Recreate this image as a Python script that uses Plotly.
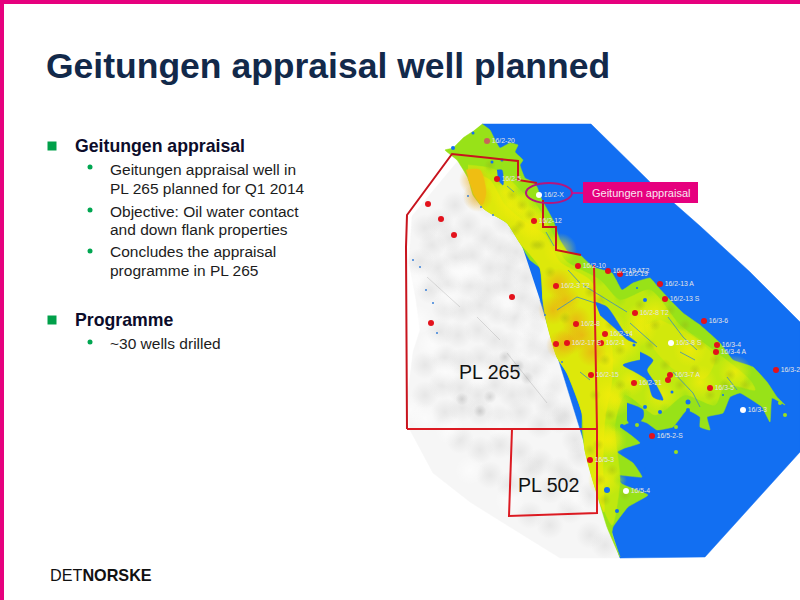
"""Geitungen slide: text, licence outlines and the well map, all on one pixel-sized hidden axis pair."""

import plotly.graph_objects as go

FONT = "Liberation Sans"
PINK = "#e6007e"
BLUE = "#126ff2"

title_text = "Geitungen appraisal well planned"

header_lines = [("Geitungen appraisal", 146), ("Programme", 320)]
body_lines = [
    ("Geitungen appraisal well in", 169),
    ("PL 265 planned for Q1 2014", 188),
    ("Objective: Oil water contact", 211),
    ("and down flank properties", 229),
    ("Concludes the appraisal", 251),
    ("programme in PL 265", 270),
    ("~30 wells drilled", 343),
]
sub_bullet_y = [167, 210, 251, 342]

# map outlines as (x, y) pixels
survey_outline = [(482, 124), (591, 124), (650, 182), (700, 226), (750, 272), (800, 322),
                  (800, 452), (750, 507), (705, 557), (620, 558), (540, 300)]
seabed_outline = [(457, 162), (412, 216), (409, 262), (416, 300), (420, 330), (413, 352), (407, 400),
                  (410, 430), (433, 473), (470, 502), (510, 527), (560, 558), (622, 558), (560, 300), (500, 190)]
green_land = [(482, 124), (490, 130), (495, 140), (500, 148), (510, 143), (518, 145), (515, 152),
              (523, 160), (520, 165), (525, 178), (533, 182), (537, 187), (542, 200), (553, 220),
              (560, 240), (568, 252), (580, 255), (593, 267), (612, 273), (622, 290), (633, 283),
              (650, 278), (658, 287), (670, 300), (683, 313), (700, 325), (720, 343), (733, 360),
              (753, 367), (767, 382), (777, 397), (785, 405), (772, 398), (770, 422), (762, 407),
              (752, 400), (740, 393), (730, 397), (723, 413), (707, 417), (710, 430), (700, 427),
              (700, 417), (687, 410), (673, 427), (657, 430), (647, 423), (637, 420), (620, 427),
              (628, 433), (640, 443), (625, 448), (617, 452), (633, 463), (642, 477), (615, 475), (622, 484),
              (648, 495), (628, 507), (613, 527), (612, 533), (620, 557), (607, 527), (595, 487),
              (585, 450), (582, 430), (582, 413), (567, 373), (557, 357), (547, 323), (543, 300),
              (540, 268), (530, 260), (520, 243), (507, 223), (483, 208), (473, 195), (468, 178),
              (457, 160), (445, 150), (453, 148), (463, 138), (472, 132)]
midgreen_land = [(468, 165), (490, 168), (505, 175), (520, 190), (535, 203), (552, 232),
                 (565, 260), (600, 280), (620, 300), (650, 290), (680, 325), (720, 355), (750, 380),
                 (755, 390), (725, 385), (715, 405), (685, 395), (665, 410), (655, 415), (625, 395),
                 (615, 425), (620, 480), (612, 525), (595, 487), (585, 450), (582, 413), (567, 373),
                 (557, 357), (547, 323), (543, 300), (540, 268), (520, 243), (507, 223), (483, 208),
                 (468, 178)]
yellow_land = [(472, 172), (490, 180), (505, 205), (525, 222), (545, 235), (560, 262), (590, 280),
               (605, 310), (612, 345), (612, 380), (605, 420), (603, 470), (604, 512), (595, 487),
               (585, 450), (582, 413), (567, 373), (557, 357), (547, 323), (543, 300), (540, 268),
               (520, 243), (507, 223), (483, 208), (468, 178)]
yellow_land_east = [(660, 320), (690, 335), (715, 358), (705, 378), (675, 370), (655, 350), (645, 325)]
orange_land = [(466, 170), (480, 170), (486, 192), (482, 205), (473, 193)]

# inlets and lakes inside the land
north_inlet = [(497, 170), (502, 170), (503, 185), (498, 180)]
channel_inlet = [(595, 302), (607, 307), (625, 333), (637, 343), (628, 340), (617, 330), (600, 315)]
big_lake = [(640, 352), (653, 360), (647, 370), (655, 383), (663, 400), (653, 397), (647, 380),
            (635, 372), (623, 365), (640, 360)]
south_lake = [(627, 403), (643, 410), (643, 418), (633, 427), (627, 420)]
lake_x = [637, 645, 672, 660, 645, 688, 723, 628, 607, 617, 622, 645, 473, 453, 502, 492, 634, 688]
lake_y = [288, 300, 392, 412, 407, 402, 395, 335, 490, 511, 426, 468, 133, 148, 160, 162, 345, 410]
lake_size = [2, 4, 3, 4, 4, 5, 2, 3, 6, 4, 4, 2, 3, 4, 3, 3, 3, 4]
island_x = [637, 676, 780, 785, 676]
island_y = [425, 427, 403, 415, 452]
speck_x = [413, 420, 426, 433, 437, 545, 562, 468, 481, 493]
speck_y = [260, 267, 290, 303, 333, 315, 362, 196, 207, 215]

river_paths = [
    [(568, 270), (580, 283)],
    [(557, 310), (577, 297), (595, 303)],
    [(583, 285), (613, 303), (627, 312)],
    [(630, 323), (657, 347)],
    [(668, 317), (683, 337), (697, 350)],
    [(680, 352), (695, 360)],
    [(673, 372), (693, 393), (700, 407)],
    [(727, 377), (737, 390)],
    [(507, 186), (514, 192)],
    [(546, 232), (554, 246)],
    [(580, 372), (590, 380)],
]

# seabed shading, hand-placed soft blobs
shade_x = [425, 440, 455, 475, 490, 505, 520, 432, 450, 468, 485, 500, 516, 532, 420, 438, 456, 472, 490, 508,
           526, 430, 448, 470, 488, 505, 522, 538, 445, 462, 480, 498, 515, 532, 440, 458, 478, 495, 512, 530,
           548, 425, 445, 462, 480, 498, 518, 536, 552, 425, 442, 460, 478, 495, 512, 530, 548, 565, 445, 462,
           480, 500, 520, 540, 560, 575, 460, 480, 500, 520, 540, 560, 580, 490, 510, 530, 550, 570, 590, 530,
           550, 570, 590, 605]
shade_y = [228, 222, 205, 195, 205, 222, 232, 245, 238, 225, 238, 248, 252, 258, 262, 268, 258, 255, 268, 268,
           278, 290, 282, 285, 290, 285, 298, 308, 308, 310, 305, 312, 318, 325, 332, 335, 330, 340, 345, 345,
           352, 365, 358, 362, 358, 365, 368, 372, 385, 395, 385, 388, 395, 385, 395, 392, 405, 415, 412, 408,
           412, 418, 412, 425, 420, 440, 440, 450, 445, 452, 462, 470, 455, 475, 485, 470, 490, 480, 495, 515,
           525, 510, 535, 545]
dark_x = [490, 480, 527, 462, 505, 518]
dark_y = [397, 411, 378, 399, 357, 366]
glint_x = [415, 418, 432, 448, 468, 505, 528, 445, 480, 520, 410, 425, 450, 545, 470, 510, 575, 455, 500]
glint_y = [280, 320, 345, 300, 272, 305, 325, 372, 375, 345, 410, 418, 430, 380, 470, 500, 500, 272, 425]
streak_paths = [
    [(427, 277), (460, 307)],
    [(477, 317), (500, 340)],
    [(507, 353), (527, 378), (547, 403)],
]

# terrain shading: yellow and orange lifts, lime edges, olive ripples
yellow_blob_x = [505, 520, 535, 640, 625, 655, 690, 700, 630, 660, 615, 640, 735, 610,
                 612, 612, 610, 606, 605, 560, 530, 510]
yellow_blob_y = [192, 210, 228, 320, 345, 312, 350, 382, 380, 395, 400, 330, 372, 440,
                 330, 360, 395, 440, 480, 250, 222, 205]
orange_blob_x = [474, 478, 558, 565, 576, 570, 582, 553, 592, 561]
orange_blob_y = [180, 197, 283, 300, 320, 340, 335, 310, 352, 345]
lime_blob_x = [490, 505, 520, 535, 552, 600, 620, 650, 680, 720, 750, 725, 715, 685, 665, 625, 615, 620]
lime_blob_y = [168, 175, 190, 203, 232, 280, 300, 290, 325, 355, 380, 385, 405, 395, 410, 395, 425, 480]
ripple_x = [490, 500, 512, 522, 530, 515, 540, 550, 565, 590, 600, 610, 605, 595, 620, 640, 655, 670, 685, 700,
            715, 730, 650, 665, 680, 695, 710, 725, 745, 620, 635, 610, 598, 600, 590, 612, 605, 625, 520, 535]
ripple_y = [165, 180, 195, 205, 215, 230, 245, 272, 318, 292, 300, 325, 360, 395, 350, 305, 325, 310, 325, 345,
            360, 375, 345, 365, 385, 370, 395, 385, 385, 385, 410, 415, 445, 480, 450, 470, 500, 495, 225, 245]

# wells
red_well_x = [497, 534, 578, 608, 620, 660, 665, 556, 635, 704, 576, 605, 556, 567, 601, 717, 716,
              776, 591, 634, 670, 668, 710, 652, 590, 428, 441, 454, 512, 431]
red_well_y = [179, 221, 266, 271, 274, 284, 299, 286, 313, 321, 324, 334, 344, 343, 343, 345, 352,
              370, 375, 383, 375, 380, 388, 436, 460, 204, 219, 235, 297, 323]
red_well_labels = ["16/2-5", "16/2-12", "16/2-10", "16/2-19 AT2", "16/2-19", "16/2-13 A",
                   "16/2-13 S", "16/2-3 T2", "16/2-8 T2", "16/3-6", "16/2-8", "16/2-14", "", "16/2-17 S",
                   "16/2-1", "16/3-4", "16/3-4 A", "16/3-2", "16/2-15", "16/2-21", "16/3-7 A", "",
                   "16/3-5", "16/5-2-S", "16/5-3", "", "", "", "", ""]
faded_well_x = [487]
faded_well_y = [141]
faded_well_labels = ["16/2-20"]
white_well_x = [539, 671, 743, 626]
white_well_y = [195, 343, 410, 491]
white_well_labels = ["16/2-X", "16/3-8 S", "16/3-3", "16/5-4"]

pl265_north = [(407, 429), (406, 247), (407, 215), (452, 154), (490, 158), (518, 161), (518, 180),
               (537, 183)]
pl265_east = [(543, 200), (543, 227), (556, 227), (556, 250), (581, 255)]
pl265_south = [(407, 429), (597, 429)]
block_divide = [(594, 265), (597, 429), (597, 513), (509, 516), (512, 429)]


def add_area(fig, points, color, smooth=0):
    line = dict(color=color, width=0.5)
    if smooth:
        line.update(shape="spline", smoothing=smooth)
    fig.add_trace(go.Scatter(
        x=[p[0] for p in points], y=[p[1] for p in points], mode="lines", fill="toself",
        fillcolor=color, line=line, hoverinfo="skip",
    ))


def add_path(fig, points, color, width):
    fig.add_trace(go.Scatter(
        x=[p[0] for p in points], y=[p[1] for p in points], mode="lines",
        line=dict(color=color, width=width), hoverinfo="skip",
    ))


def add_blobs(fig, xs, ys, rgb, size, strength=1.0):
    # soft round patches: solid in the centre, fading out to nothing
    fig.add_trace(go.Scatter(
        x=xs, y=ys, mode="markers", hoverinfo="skip",
        marker=dict(size=size, color=f"rgba({rgb},0)", line=dict(width=0),
                    gradient=dict(type="radial", color=f"rgba({rgb},{strength})")),
    ))


def add_wells(fig, xs, ys, labels, color):
    fig.add_trace(go.Scatter(
        x=xs, y=ys, text=labels, mode="markers+text", textposition="middle right",
        textfont=dict(family=FONT, size=6.8, color="#e4e4e4"), hoverinfo="skip",
        marker=dict(size=6, color=color, line=dict(width=0)),
    ))


def add_text(fig, x, y, text, size, color, bold=False):
    fig.add_annotation(
        x=x - 2, y=y, text=f"<b>{text}</b>" if bold else text, showarrow=False, xanchor="left", yanchor="middle",
        font=dict(family=FONT, size=size, color=color),
    )


fig = go.Figure()

add_area(fig, seabed_outline, "#f6f6f6")
add_blobs(fig, shade_x, shade_y, "190,190,190", 28, 0.28)
add_blobs(fig, glint_x, glint_y, "255,255,255", 30, 0.6)
add_blobs(fig, dark_x, dark_y, "140,140,140", 13, 0.3)
for streak in streak_paths:
    add_path(fig, streak, "rgba(150,150,150,0.3)", 1)

add_area(fig, survey_outline, BLUE)
add_area(fig, green_land, "#98e218", smooth=0.35)
add_area(fig, midgreen_land, "#bfe80f", smooth=0.7)
add_area(fig, yellow_land, "#dde80a", smooth=0.7)
add_area(fig, yellow_land_east, "#d2e80c", smooth=0.7)
add_blobs(fig, yellow_blob_x, yellow_blob_y, "240,236,10", 34, 0.8)
add_blobs(fig, lime_blob_x, lime_blob_y, "152,226,24", 14, 0.55)
add_blobs(fig, orange_blob_x, orange_blob_y, "236,170,20", 30, 0.7)
add_area(fig, orange_land, "#efbe12", smooth=0.7)
add_blobs(fig, ripple_x, ripple_y, "150,170,20", 12, 0.35)

for inlet in [north_inlet, channel_inlet, big_lake, south_lake]:
    add_area(fig, inlet, BLUE, smooth=0.7)
fig.add_trace(go.Scatter(x=lake_x, y=lake_y, mode="markers", hoverinfo="skip",
                         marker=dict(size=lake_size, color=BLUE, opacity=1, line=dict(width=0))))
fig.add_trace(go.Scatter(x=island_x, y=island_y, mode="markers", hoverinfo="skip",
                         marker=dict(size=4, color="#9ae01a", line=dict(width=0))))
fig.add_trace(go.Scatter(x=speck_x, y=speck_y, mode="markers", hoverinfo="skip",
                         marker=dict(size=2, color="#3a80d8", line=dict(width=0))))
for river in river_paths:
    add_path(fig, river, "#3a8ac0", 0.8)

add_path(fig, pl265_north, "#c8141e", 2)
add_path(fig, pl265_east, "#c8141e", 2)
add_path(fig, pl265_south, "#dc1a22", 2)
add_path(fig, block_divide, "#dc1a22", 2)

add_wells(fig, faded_well_x, faded_well_y, faded_well_labels, "#c8645a")
add_wells(fig, red_well_x, red_well_y, red_well_labels, "#e3121c")
add_wells(fig, white_well_x, white_well_y, white_well_labels, "white")

# slide furniture
fig.add_shape(type="rect", x0=0, x1=800, y0=0, y1=4, fillcolor=PINK, line_width=0)
fig.add_shape(type="rect", x0=0, x1=4, y0=0, y1=600, fillcolor=PINK, line_width=0)
fig.add_shape(type="circle", x0=526, x1=572, y0=183, y1=203, line=dict(color="#b5157e", width=2))
fig.add_shape(type="line", x0=572, x1=583, y0=193, y1=193, line=dict(color=PINK, width=1.5))
fig.add_shape(type="rect", x0=583, x1=698, y0=182, y1=203, fillcolor=PINK, line_width=0)
fig.add_annotation(x=640.5, y=193, text="Geitungen appraisal", showarrow=False,
                   font=dict(family=FONT, size=11, color="#f8e8f2"))

add_text(fig, 46, 66, title_text, 35.5, "#12294a", bold=True)
for text, y in header_lines:
    add_text(fig, 75, y, text, 17.7, "#0c0c2a", bold=True)
for text, y in body_lines:
    add_text(fig, 110, y, text, 15.5, "#1c1c1c")

fig.add_trace(go.Scatter(x=[52, 52], y=[146, 320], mode="markers", hoverinfo="skip",
                         marker=dict(symbol="square", size=9, color="#00a04a", line=dict(width=0))))
fig.add_trace(go.Scatter(x=[90] * len(sub_bullet_y), y=sub_bullet_y, mode="markers", hoverinfo="skip",
                         marker=dict(size=5, color="#00a651", line=dict(width=0))))

add_text(fig, 459, 372, "PL 265", 19.6, "#111111")
add_text(fig, 518, 485, "PL 502", 19.6, "#111111")
add_text(fig, 50, 575, "DET<b>NORSKE</b>", 16.2, "#111111")

fig.update_layout(
    width=800, height=600, margin=dict(l=0, r=0, t=0, b=0), showlegend=False,
    paper_bgcolor="white", plot_bgcolor="white",
    xaxis=dict(range=[0, 800], visible=False, fixedrange=True),
    yaxis=dict(range=[600, 0], visible=False, fixedrange=True),
)
fig.write_html("out.html", config={"displayModeBar": False}, post_script="document.body.style.margin='0';")
